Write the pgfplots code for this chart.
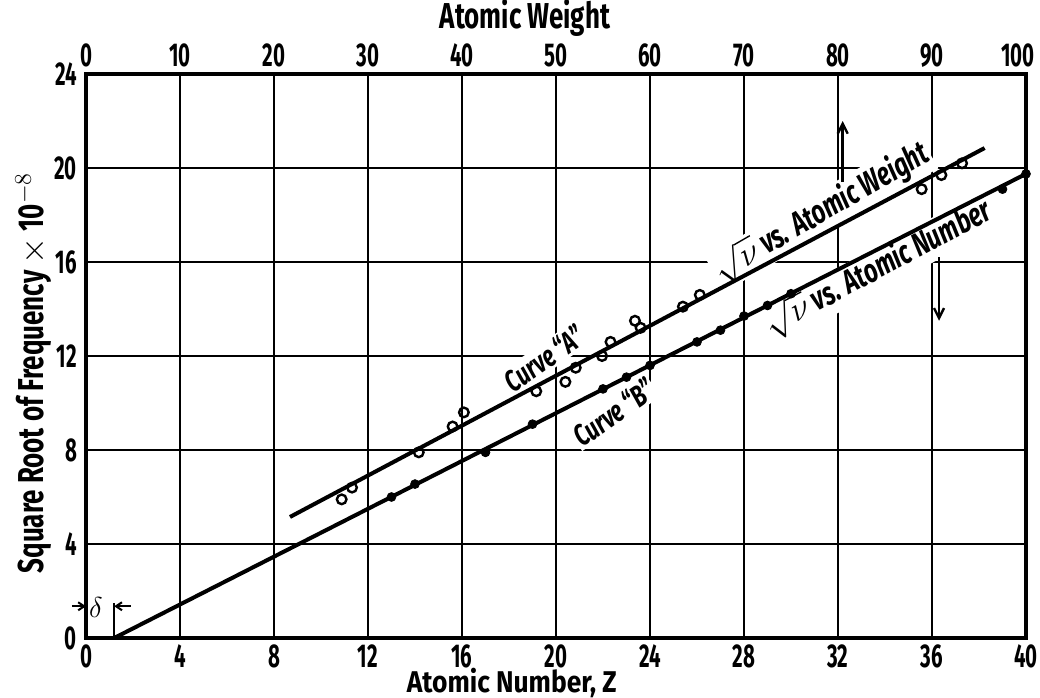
\documentclass[border=0pt]{standalone}
\usepackage{fontspec}
\setmainfont{Fira Sans}[FakeStretch=0.72, Numbers=Proportional]
\newfontfamily\widefont{Fira Sans}[FakeStretch=0.88]
\newfontfamily\tickfont{Fira Sans}[FakeStretch=0.62, Numbers=Proportional]
\usepackage{pgfplots}
\pgfplotsset{compat=1.18}
\usetikzlibrary{arrows.meta}
\begin{document}
\begin{tikzpicture}
\pgfplotsset{
  base/.style={
    width=470pt, height=282pt, scale only axis,
    ymin=0, ymax=24,
    /pgf/number format/assume math mode=true,
    major tick length=0pt,
    axis line style={line width=1.6pt},
    ticklabel style={font=\fontsize{16.5}{16.5}\selectfont\tickfont\bfseries},
    label style={font=\fontsize{18}{18}\selectfont\bfseries},
    clip=false,
  }
}
\begin{axis}[base,
  xmin=0, xmax=40,
  xtick={0,4,...,40}, ytick={0,4,...,24},
  grid=major, grid style={black, line width=1.4pt},
  xticklabel style={yshift=0pt},
  yticklabel style={xshift=-1pt},
  xlabel={Atomic Number, Z},
  xlabel style={at={(axis description cs:0.453,-0.079)}, anchor=center, font=\fontsize{15}{15}\selectfont\widefont\bfseries},
  ylabel={Square Root of Frequency $\times$ 10$^{-8}$},
  ylabel style={at={(axis description cs:-0.056,0.47)}, anchor=center, rotate=0},
]
\node[rotate=35, fill=white, inner sep=1pt, font=\fontsize{15}{15}\selectfont\bfseries\itshape] at (axis cs:19.5,11.9) {Curve ``A''};
\node[rotate=35, fill=white, inner sep=1pt, font=\fontsize{15}{15}\selectfont\bfseries\itshape] at (axis cs:22.45,9.6) {Curve ``B''};
\node[rotate=30, fill=white, inner sep=1pt, font=\fontsize{16.5}{16.5}\selectfont\bfseries\itshape] at (axis cs:31.3,18.1) {$\sqrt{\nu}$ vs. Atomic Weight};
\node[rotate=28, fill=white, inner sep=1pt, font=\fontsize{16.5}{16.5}\selectfont\bfseries\itshape] at (axis cs:33.7,15.7) {$\sqrt{\nu}$ vs. Atomic Number};
% Curve B line and points
\addplot[black, line width=2pt] coordinates {(1.2,0) (40,19.75)};
\addplot[only marks, mark=*, mark size=2.2pt, black] coordinates {
(13,6.0) (14,6.55) (17,7.9) (19,9.1) (22,10.6) (23,11.1) (24,11.6)
(26,12.6) (27,13.1) (28,13.7) (29,14.15) (30,14.65) (39,19.1) (40,19.75)};
% arrows
\addplot[black, line width=1.2pt, -{Straight Barb[length=5pt,width=5pt]}] coordinates {(32.2,19.4) (32.2,22.0)};
\addplot[black, line width=1.2pt, -{Straight Barb[length=5pt,width=5pt]}] coordinates {(36.3,16.2) (36.3,13.5)};
% delta
\addplot[black, line width=1pt, -{Straight Barb[length=3pt,width=4pt]}] coordinates {(-0.6,1.35) (0,1.35)};
\addplot[black, line width=1pt] coordinates {(1.2,0) (1.2,1.5)};
\addplot[black, line width=1pt, -{Straight Barb[length=3pt,width=4pt]}] coordinates {(1.9,1.35) (1.2,1.35)};
\node[font=\fontsize{14}{14}\selectfont\bfseries] at (axis cs:0.42,1.3) {$\delta$};
\end{axis}
\begin{axis}[base,
  xmin=0, xmax=100,
  axis x line*=top, axis y line=none,
  xtick={0,10,...,100},
  xticklabels={0,10,20,30,40,50,60,70,80,90,{\hspace*{-8pt}100}},
  xticklabel style={yshift=0pt},
  xlabel={Atomic Weight},
  xlabel style={at={(axis description cs:0.467,1.099)}, anchor=center},
]
\addplot[black, line width=2pt] coordinates {(21.7,5.15) (95.6,20.85)};
\addplot[only marks, mark=o, mark size=2.4pt, mark options={line width=1.2pt, fill=white}, black] coordinates {
(27.2,5.9) (28.3,6.4) (35.4,7.9) (39.0,9.0) (40.2,9.6) (47.9,10.5) (51.0,10.9)
(52.1,11.5) (54.9,12.0) (55.8,12.6) (58.4,13.5) (59.0,13.2) (63.5,14.1) (65.3,14.6)
(88.9,19.1) (91.0,19.7) (93.2,20.2)};
\end{axis}
\pgfresetboundingbox
\path[use as bounding box] (-43pt,-29.5pt) rectangle (477pt,319pt);
\end{tikzpicture}
\end{document}
